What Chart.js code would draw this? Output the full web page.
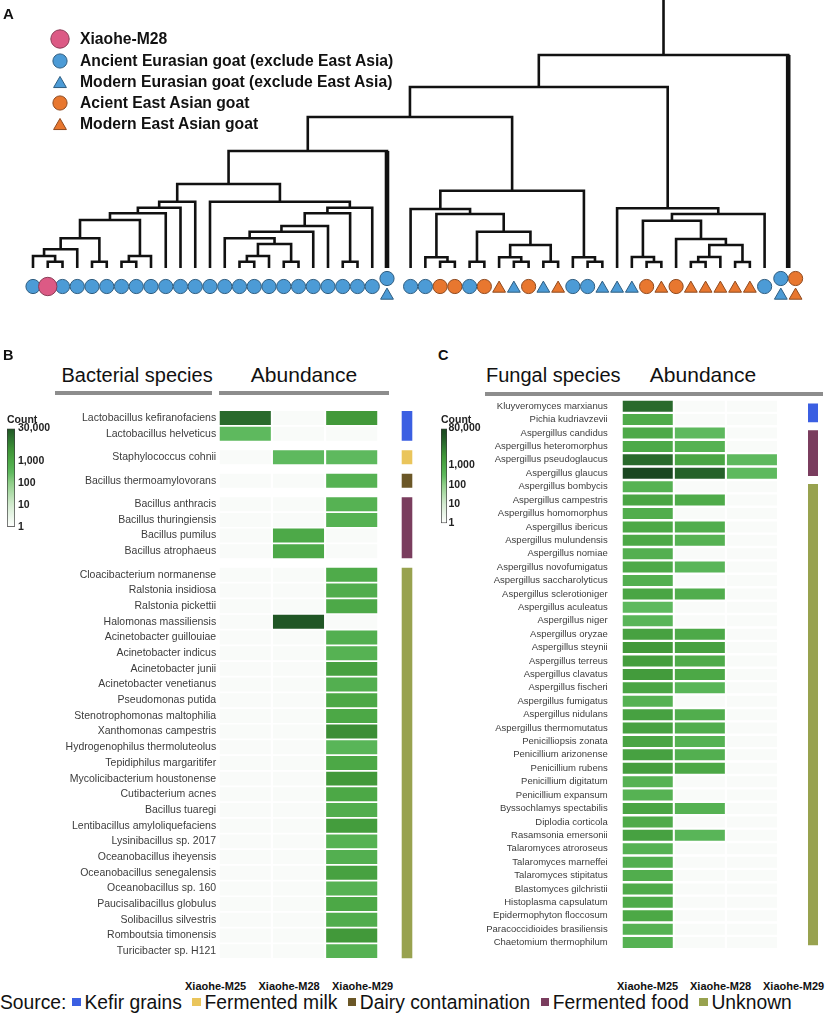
<!DOCTYPE html>
<html lang="en">
<head>
<meta charset="utf-8">
<title>Goat tree and Xiaohe microbial species</title>
<script src="https://cdn.jsdelivr.net/npm/chart.js@4.4.1/dist/chart.umd.min.js"></script>
<style>
  html, body { margin: 0; background: #fff; }
  #fig { position: relative; width: 827px; height: 1024px; overflow: hidden;
         font-family: "Liberation Sans", Arial, Helvetica, sans-serif; color: #111; }
  #fig > * { position: absolute; }
  .tag { font-weight: bold; line-height: 1; }
  .head { font-size: 20px; line-height: 1; white-space: nowrap; }
  .abund { font-size: 21px; line-height: 1; text-align: center; white-space: nowrap; }
  .rule { height: 3.5px; background: #8d8d8d; }
  .sample { font-size: 11px; font-weight: bold; line-height: 1; white-space: nowrap; }
  #legendA { left: 40px; top: 27px; }
  #legendA .row { display: flex; align-items: center; height: 21.2px; font-size: 15.7px; font-weight: bold; white-space: nowrap; }
  #legendA .row:first-child { height: 23px; }
  #legendA .mk { width: 40px; display: flex; justify-content: center; }
  #source { left: 0; top: 992.5px; height: 19.3px; display: flex; align-items: center; font-size: 19.3px; line-height: 1; white-space: nowrap; }
  #source .lead { margin-right: 6px; }
  #source .it { display: flex; align-items: center; margin-right: 10.5px; }
  #source .sq { display: inline-block; width: 8.5px; height: 8.5px; margin-right: 3.5px; }
</style>
</head>
<body>
<div id="fig">
  <canvas id="tree" width="827" height="305" style="left:0;top:0"></canvas>
  <div class="tag" style="left:3px;top:6px;font-size:15px">A</div>
  <div id="legendA"></div>

  <div class="tag" style="left:3px;top:348px;font-size:14.5px">B</div>
  <div class="head" style="left:61.5px;top:365px">Bacterial species</div>
  <div class="abund" style="left:219px;top:364px;width:170px">Abundance</div>
  <div class="rule" style="left:55px;top:391px;width:157px"></div>
  <div class="rule" style="left:219px;top:391px;width:170px"></div>
  <canvas id="heatB" width="420" height="575" style="left:0;top:400px"></canvas>
  <canvas id="barB" width="70" height="126" style="left:0;top:410px"></canvas>

  <div class="tag" style="left:438px;top:348px;font-size:14.5px">C</div>
  <div class="head" style="left:486px;top:365px">Fungal species</div>
  <div class="abund" style="left:603px;top:364px;width:200px">Abundance</div>
  <div class="rule" style="left:485px;top:392px;width:338px"></div>
  <canvas id="heatC" width="407" height="590" style="left:420px;top:390px"></canvas>
  <canvas id="barC" width="70" height="121" style="left:434px;top:410px"></canvas>

  <div id="source"></div>
</div>

<script>
// ---------- Panel A : tree ----------
// X = Xiaohe-M28, AE/ME = ancient/modern Eurasian, AA/MA = ancient/modern East Asian
// "a/b" = two samples stacked on one collapsed tip, "," = tips side by side
const leafTypes = [
  'AE', 'X', 'AE', 'AE', 'AE', 'AE', 'AE', 'AE', 'AE', 'AE', 'AE', 'AE',
  'AE', 'AE', 'AE', 'AE', 'AE', 'AE', 'AE', 'AE', 'AE', 'AE', 'AE', 'AE',
  'AE/ME',
  'AE', 'AE', 'AA', 'AA', 'AE', 'AA', 'MA', 'ME', 'AA', 'ME', 'MA', 'AE', 'AE', 'ME',
  'ME', 'ME', 'AA', 'MA', 'AA', 'MA', 'MA', 'MA', 'MA', 'MA', 'AE',
  'AE/ME,AA/MA'
];

// [height, left, right], a number is a tip index
const tree =
  [213,
    [181,
      [151,
        [117,
          [84,
            [66.3, [60.3, [54.7, [48, [29.7, [18.7, [12, 0, [6.3, 1, 2]], 3], [6.3, 4, 5]], [12, [6.3, 6, 7], 8]], 9], 10], 11],
            [66.3, 12, [60.3, [54.7, [42, [36.3, [29.7, 13, [24, [12, [6.3, 14, 15], 16], [6.3, 17, 18]]], 19], 20], [6.3, 21, 22]], 23]]
          ],
          24],
        [77.3,
          [59, 25, [54, [10.7, 26, [6.3, 27, 28]], [36.3, [6.3, 29, 30], [23, [10.7, 31, [6.3, 32, 33]], [6.3, 34, 35]]]]],
          [10.7, 36, [6.3, 37, 38]]]
      ],
      [59.7, 39, [54, [47.3, [11, 40, [6, 41, 42]], [29, 43, [23, [11, [6, 44, 45], 46], [6, 47, 48]]]], 49]]
    ],
    50];
const treeTop = 268;

const legendA = [
  ['X', 'Xiaohe-M28'],
  ['AE', 'Ancient Eurasian goat (exclude East Asia)'],
  ['ME', 'Modern Eurasian goat (exclude East Asia)'],
  ['AA', 'Acient East Asian goat'],
  ['MA', 'Modern East Asian goat']
];

// ---------- Panel B : bacteria ----------
const samples = ['Xiaohe-M25', 'Xiaohe-M28', 'Xiaohe-M29'];
const sources = ['Kefir grains', 'Fermented milk', 'Dairy contamination', 'Fermented food', 'Unknown'];
const sourceColors = ['#3b5fe2', '#eac55b', '#6b5727', '#7a3d5e', '#98a24f'];

const bactSpecies = [
  'Lactobacillus kefiranofaciens', 'Lactobacillus helveticus', 'Staphylococcus cohnii',
  'Bacillus thermoamylovorans', 'Bacillus anthracis', 'Bacillus thuringiensis', 'Bacillus pumilus',
  'Bacillus atrophaeus', 'Cloacibacterium normanense', 'Ralstonia insidiosa', 'Ralstonia pickettii',
  'Halomonas massiliensis', 'Acinetobacter guillouiae', 'Acinetobacter indicus', 'Acinetobacter junii',
  'Acinetobacter venetianus', 'Pseudomonas putida', 'Stenotrophomonas maltophilia', 'Xanthomonas campestris',
  'Hydrogenophilus thermoluteolus', 'Tepidiphilus margaritifer', 'Mycolicibacterium houstonense',
  'Cutibacterium acnes', 'Bacillus tuaregi', 'Lentibacillus amyloliquefaciens', 'Lysinibacillus sp. 2017',
  'Oceanobacillus iheyensis', 'Oceanobacillus senegalensis', 'Oceanobacillus sp. 160',
  'Paucisalibacillus globulus', 'Solibacillus silvestris', 'Romboutsia timonensis', 'Turicibacter sp. H121'
];
const bactSource = [0, 0, 1, 2, 3, 3, 3, 3,
  4, 4, 4, 4, 4, 4, 4, 4, 4, 4, 4, 4, 4, 4, 4, 4, 4, 4, 4, 4, 4, 4, 4, 4, 4];
const bactM25 = [15000, 300, 0, 0, 0, 0, 0, 0,
  0, 0, 0, 0, 0, 0, 0, 0, 0, 0, 0, 0, 0, 0, 0, 0, 0, 0, 0, 0, 0, 0, 0, 0, 0];
const bactM28 = [0, 0, 300, 0, 0, 0, 900, 900,
  0, 0, 0, 30000, 0, 0, 0, 0, 0, 0, 0, 0, 0, 0, 0, 0, 0, 0, 0, 0, 0, 0, 0, 0, 0];
const bactM29 = [2500, 0, 300, 500, 500, 500, 0, 0,
  800, 700, 900, 0, 600, 500, 1500, 600, 1000, 1000, 4000, 400, 1000, 2500, 1000,
  700, 2000, 500, 600, 1500, 500, 1000, 700, 2500, 500];
const bactCountTicks = [1, 10, 100, 1000, 30000];

// ---------- Panel C : fungi ----------
const fungSpecies = [
  'Kluyveromyces marxianus', 'Pichia kudriavzevii', 'Aspergillus candidus', 'Aspergillus heteromorphus',
  'Aspergillus pseudoglaucus', 'Aspergillus glaucus', 'Aspergillus bombycis', 'Aspergillus campestris',
  'Aspergillus homomorphus', 'Aspergillus ibericus', 'Aspergillus mulundensis', 'Aspergillus nomiae',
  'Aspergillus novofumigatus', 'Aspergillus saccharolyticus', 'Aspergillus sclerotioniger',
  'Aspergillus aculeatus', 'Aspergillus niger', 'Aspergillus oryzae', 'Aspergillus steynii',
  'Aspergillus terreus', 'Aspergillus clavatus', 'Aspergillus fischeri', 'Aspergillus fumigatus',
  'Aspergillus nidulans', 'Aspergillus thermomutatus', 'Penicilliopsis zonata', 'Penicillium arizonense',
  'Penicillium rubens', 'Penicillium digitatum', 'Penicillium expansum', 'Byssochlamys spectabilis',
  'Diplodia corticola', 'Rasamsonia emersonii', 'Talaromyces atroroseus', 'Talaromyces marneffei',
  'Talaromyces stipitatus', 'Blastomyces gilchristii', 'Histoplasma capsulatum', 'Epidermophyton floccosum',
  'Paracoccidioides brasiliensis', 'Chaetomium thermophilum'
];
const fungSource = [0, 0, 3, 3, 3, 3,
  4, 4, 4, 4, 4, 4, 4, 4, 4, 4, 4, 4, 4, 4, 4, 4, 4, 4, 4, 4, 4, 4, 4, 4, 4, 4, 4, 4, 4, 4, 4, 4, 4, 4, 4];
const fungM25 = [15000, 800, 900, 900, 15000, 80000, 500, 1200, 700, 1000, 1000, 600, 900, 600, 1200,
  300, 400, 1500, 2500, 1800, 2200, 1200, 500, 1500, 1500, 1200, 1500, 1800, 500, 500, 1200,
  800, 1500, 500, 600, 700, 800, 800, 1000, 500, 500];
const fungM28 = [0, 0, 300, 500, 1200, 20000, 0, 800, 0, 700, 500, 0, 400, 0, 700,
  0, 0, 900, 1500, 800, 1000, 400, 0, 700, 700, 500, 600, 1000, 0, 0, 500,
  0, 400, 0, 0, 0, 0, 0, 0, 0, 0];
const fungM29 = [0, 0, 0, 0, 300, 300, 0, 0, 0, 0, 0, 0, 0, 0, 0,
  0, 0, 0, 0, 0, 0, 0, 0, 0, 0, 0, 0, 0, 0, 0, 0,
  0, 0, 0, 0, 0, 0, 0, 0, 0, 0];
const fungCountTicks = [1, 10, 100, 1000, 80000];


const FONT = '"Liberation Sans", Arial, Helvetica, sans-serif';
Chart.defaults.font.family = FONT;
const fig = document.getElementById('fig');

// green colour ramp, keyed on log10(count)
const RAMP = [
  [0, [255, 255, 255]], [1, [211, 235, 208]], [2, [143, 207, 136]], [2.5, [92, 184, 92]],
  [3, [76, 168, 70]], [3.5, [63, 149, 55]], [4, [47, 117, 49]], [4.5, [31, 85, 36]], [4.9, [26, 71, 32]]
];
function countColor(v) {
  if (!v) return '#f9fbf9';
  const l = Math.log10(v);
  for (let i = 1; i < RAMP.length; i++) {
    const [l0, c0] = RAMP[i - 1], [l1, c1] = RAMP[i];
    if (l <= l1 || i === RAMP.length - 1) {
      const t = Math.max(0, Math.min(1, (l - l0) / (l1 - l0)));
      const c = c0.map((a, k) => Math.round(a + (c1[k] - a) * t));
      return `rgb(${c[0]},${c[1]},${c[2]})`;
    }
  }
}

const markerStyle = {
  X:  { shape: 'circle',   fill: '#dc5a85', stroke: '#8a3a55', r: 9.2 },
  AE: { shape: 'circle',   fill: '#4c9bd6', stroke: '#2f5d80', r: 7.1 },
  ME: { shape: 'triangle', fill: '#4c9bd6', stroke: '#2f5d80', r: 7.4 },
  AA: { shape: 'circle',   fill: '#e8772f', stroke: '#8f4a1f', r: 7.1 },
  MA: { shape: 'triangle', fill: '#e8772f', stroke: '#8f4a1f', r: 7.4 }
};

/**
 * Panel A : dendrogram
 */
function leafPos(i) {
  // a bit more room on both sides of the collapsed tips
  return i + (i > 24 ? 0.6 : 0) + (i > 49 ? 0.6 : 0);
}

function drawTree() {
  const branches = [];
  const stems = [];

  const place = (node) => {
    if (typeof node === 'number') return { x: leafPos(node), h: 0, leaf: node };
    const [h, a, b] = node;
    const L = place(a), R = place(b);
    branches.push([{ x: L.x, y: L.h }, { x: L.x, y: h }, { x: R.x, y: h }, { x: R.x, y: R.h }]);
    // collapsed tips get a heavier line
    [L, R].forEach(c => {
      if (c.leaf !== undefined && leafTypes[c.leaf].includes('/')) {
        stems.push([{ x: c.x, y: 0 }, { x: c.x, y: h }]);
      }
    });
    return { x: (L.x + R.x) / 2, h };
  };
  const root = place(tree);
  branches.push([{ x: root.x, y: root.h }, { x: root.x, y: treeTop }]);

  const pts = { X: [], AE: [], ME: [], AA: [], MA: [] };
  leafTypes.forEach((t, i) => {
    const cols = t.split(',');
    cols.forEach((col, k) => {
      const x = leafPos(i) + k - (cols.length - 1) / 2;
      const parts = col.split('/');
      if (parts.length === 1) {
        pts[col].push({ x, y: markerStyle[col].shape === 'circle' ? -18.5 : -20.5 });
      } else {
        pts[parts[0]].push({ x, y: -10.5 });
        pts[parts[1]].push({ x, y: -27.5 });
      }
    });
  });

  const lineSet = (data, w) => ({
    data, showLine: true, borderColor: '#111', borderWidth: w, pointRadius: 0,
    borderJoinStyle: 'miter', borderCapStyle: 'butt', fill: false
  });

  const datasets = [
    ...Object.keys(pts).map(k => ({
      data: pts[k],
      pointStyle: markerStyle[k].shape,
      pointRadius: markerStyle[k].r,
      pointBackgroundColor: markerStyle[k].fill,
      pointBorderColor: markerStyle[k].stroke,
      pointBorderWidth: 1
    })),
    ...stems.map(s => lineSet(s, 4.6)),
    ...branches.map(b => lineSet(b, 2.6))
  ];

  new Chart(document.getElementById('tree'), {
    type: 'scatter',
    data: { datasets },
    options: {
      responsive: false, animation: false, events: [], devicePixelRatio: 1,
      layout: { padding: 0, autoPadding: false },
      plugins: { legend: { display: false }, tooltip: { enabled: false } },
      scales: {
        x: { type: 'linear', display: false, min: -33 / 14.75, max: (827 - 33) / 14.75 },
        y: { type: 'linear', display: false, min: -37, max: treeTop }
      }
    }
  });

  // legend (html, sits over the empty corner of the tree)
  const box = document.getElementById('legendA');
  legendA.forEach(([key, label]) => {
    const s = markerStyle[key];
    const shape = s.shape === 'circle'
      ? `<circle r="${s.r}" fill="${s.fill}" stroke="${s.stroke}" stroke-width="1"/>`
      : `<polygon transform="translate(0 ${s.r / 4})" points="0,${-s.r} ${s.r * 0.866},${s.r / 2} ${-s.r * 0.866},${s.r / 2}" fill="${s.fill}" stroke="${s.stroke}" stroke-width="1"/>`;
    const row = document.createElement('div');
    row.className = 'row';
    row.innerHTML = `<span class="mk"><svg width="22" height="22" viewBox="-11 -11 22 22">${shape}</svg></span><span>${label}</span>`;
    box.appendChild(row);
  });
}

/**
 * Panels B / C : abundance heatmap + source strip
 */
function drawHeatmap(canvasId, names, source, counts, cfg) {
  // row positions, optional extra space where the source changes
  const rows = [];
  names.forEach((n, i) => {
    if (i === 0) rows.push(0);
    else rows.push(rows[i - 1] + 1 + (source[i] !== source[i - 1] ? cfg.groupGap : 0));
  });

  const cellSets = counts.map((vals, c) => ({
    type: 'bar',
    data: vals.map((v, i) => ({ y: rows[i], x: [c + cfg.inset, c + 1 - cfg.inset] })),
    backgroundColor: vals.map(v => countColor(v)),
    grouped: false,
    barPercentage: cfg.barPct,
    categoryPercentage: 1,
    borderWidth: 0,
    clip: false
  }));

  // one thick segment for each run of the same source
  const runs = [];
  source.forEach((s, i) => {
    const last = runs[runs.length - 1];
    if (last && last.s === s) last.end = rows[i];
    else runs.push({ s, start: rows[i], end: rows[i] });
  });
  const stripSets = runs.map(r => ({
    type: 'line',
    data: [{ x: cfg.stripX, y: r.start - 0.5 + cfg.stripInset }, { x: cfg.stripX, y: r.end + 0.5 - cfg.stripInset }],
    borderColor: sourceColors[r.s],
    borderWidth: cfg.stripWidth,
    borderCapStyle: 'butt',
    pointRadius: 0,
    fill: false,
    clip: false
  }));

  // once the plot box is laid out, fix the ranges so row 0 sits at
  // cfg.firstRow px with cfg.pitch px per row and cfg.colW px per column
  const fitRows = {
    id: 'fitRows',
    afterLayout(chart) {
      const a = chart.chartArea;
      const y = chart.scales.y, x = chart.scales.x;
      y.min = (a.top - cfg.firstRow) / cfg.pitch;
      y.max = (a.bottom - cfg.firstRow) / cfg.pitch;
      y.configure();
      x.min = 0;
      x.max = (a.right - a.left) / cfg.colW;
      x.configure();
    }
  };

  new Chart(document.getElementById(canvasId), {
    type: 'bar',
    data: { datasets: [...cellSets, ...stripSets] },
    plugins: [fitRows],
    options: {
      indexAxis: 'y',
      responsive: false, animation: false, events: [], devicePixelRatio: 1,
      layout: { padding: 0, autoPadding: false },
      plugins: { legend: { display: false }, tooltip: { enabled: false } },
      scales: {
        x: { type: 'linear', display: false, offset: false, min: 0, max: 4 },
        y: {
          type: 'linear', reverse: true, bounds: 'data', offset: false,
          min: -1, max: rows[rows.length - 1] + 1,
          afterBuildTicks: s => { s.ticks = rows.map(v => ({ value: v })); },
          afterFit: s => { s.width = cfg.axisWidth; },
          grid: { display: false, drawTicks: false, offset: false },
          border: { display: false },
          ticks: {
            autoSkip: false, padding: cfg.labelPad, color: '#3c3c3c',
            font: { size: cfg.fontSize, family: FONT },
            callback: (v, i) => names[i]
          }
        }
      }
    }
  });
}

/**
 * Small log colour bar for the counts
 */
function drawColorBar(canvasId, tickVals, cfg) {
  const max = tickVals[tickVals.length - 1];
  const gradient = (chart) => {
    const a = chart.chartArea;
    if (!a) return '#fff';
    const g = chart.ctx.createLinearGradient(0, a.bottom, 0, a.top);
    for (let k = 0; k <= 20; k++) {
      const t = k / 20;
      g.addColorStop(t, countColor(Math.pow(10, t * Math.log10(max)) || 1));
    }
    return g;
  };

  new Chart(document.getElementById(canvasId), {
    type: 'bar',
    data: {
      labels: ['Count'],
      datasets: [{
        data: [[1, max]],
        backgroundColor: ctx => gradient(ctx.chart),
        borderColor: '#3a3a3a', borderWidth: 1, borderSkipped: false,
        barPercentage: 1, categoryPercentage: 1
      }]
    },
    options: {
      responsive: false, animation: false, events: [], devicePixelRatio: 1,
      layout: { padding: { left: 7, top: 4 } },
      plugins: {
        legend: { display: false }, tooltip: { enabled: false },
        title: {
          display: true, text: 'Count', align: 'start', color: '#222',
          font: { size: 10.5, weight: 'bold', family: FONT }, padding: { top: 0, bottom: 2 }
        }
      },
      scales: {
        x: { display: false },
        y: {
          type: 'logarithmic', position: 'right', min: 1, max,
          afterBuildTicks: s => { s.ticks = tickVals.map(v => ({ value: v })); },
          afterFit: s => { s.width = cfg.axisWidth; },
          grid: { display: false, drawTicks: false },
          border: { display: false },
          ticks: {
            padding: cfg.pad, color: '#222',
            font: { size: 10.5, weight: 'bold', family: FONT },
            callback: v => Number(v).toLocaleString('en-US')
          }
        }
      }
    }
  });
}

function sampleLabels(left, step) {
  samples.forEach((s, i) => {
    const d = document.createElement('div');
    d.className = 'sample';
    d.style.left = (left + i * step) + 'px';
    d.style.top = '981px';
    d.textContent = s;
    fig.appendChild(d);
  });
}

drawTree();

drawHeatmap('heatB', bactSpecies, bactSource, [bactM25, bactM28, bactM29], {
  groupGap: 0.5, inset: 0.02, barPct: 0.89,
  axisWidth: 218.7, labelPad: 2.5, fontSize: 10.5,
  firstRow: 18, pitch: 15.68, colW: 53.2,
  stripX: (407 - 218.7) / 53.2, stripWidth: 10.6, stripInset: 0.05
});
drawColorBar('barB', bactCountTicks, { axisWidth: 55, pad: 3 });

drawHeatmap('heatC', fungSpecies, fungSource, [fungM25, fungM28, fungM29], {
  groupGap: 0, inset: 0.02, barPct: 0.82,
  axisWidth: 201.7, labelPad: 14, fontSize: 9.5,
  firstRow: 16.2, pitch: 13.41, colW: 52.1,
  stripX: (813 - 621.7) / 52.1, stripWidth: 10, stripInset: 0.3
});
drawColorBar('barC', fungCountTicks, { axisWidth: 57, pad: 1.5 });

sampleLabels(185, 73.5);
sampleLabels(617, 73);

// source legend along the bottom
document.getElementById('source').innerHTML = '<span class="lead">Source:</span>' + sources.map((s, i) =>
  `<span class="it"><span class="sq" style="background:${sourceColors[i]}"></span>${s}</span>`).join('');
</script>
</body>
</html>
